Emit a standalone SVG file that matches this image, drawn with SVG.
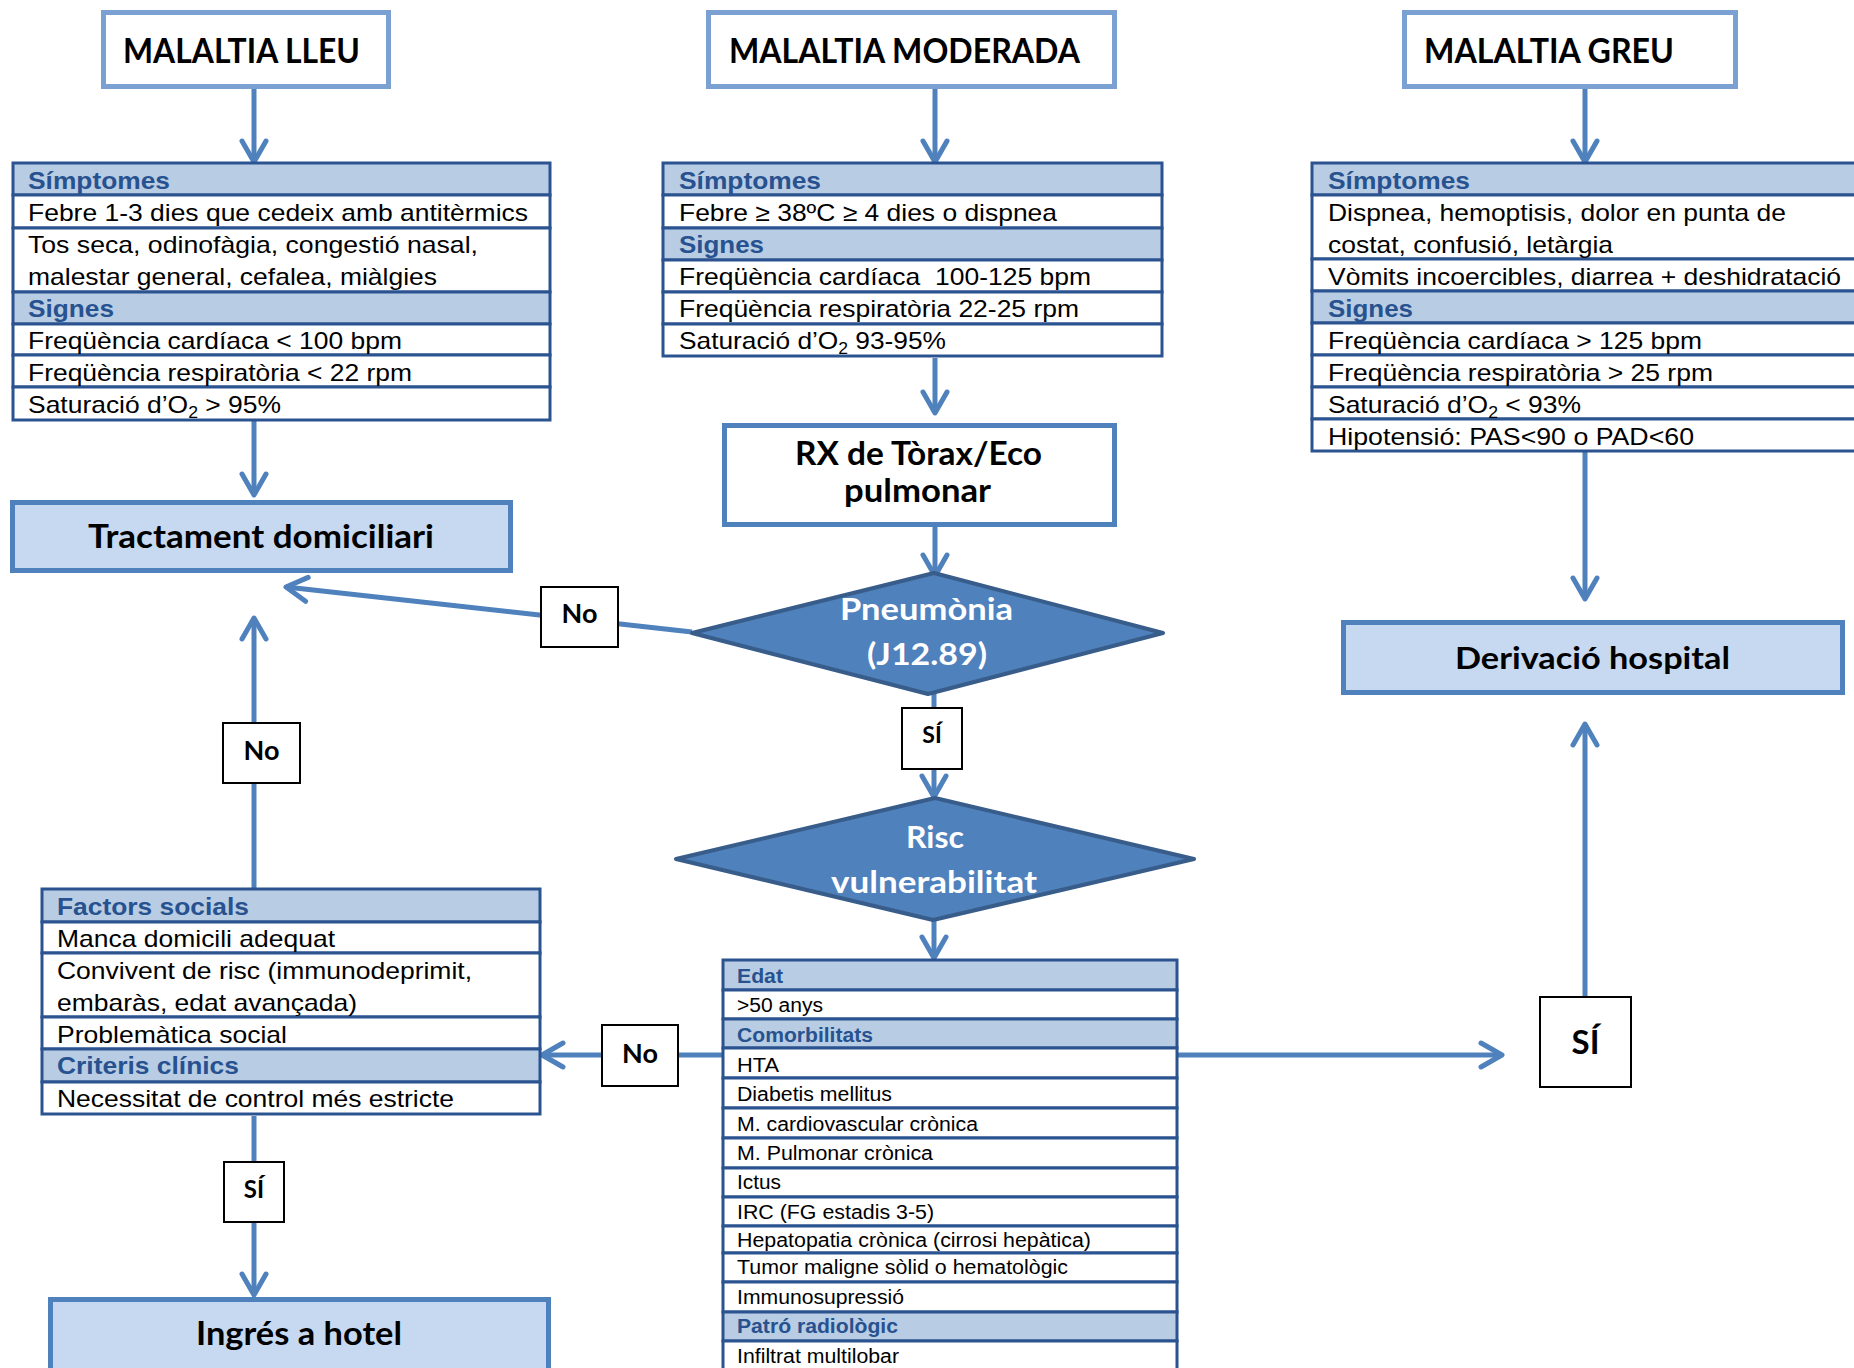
<svg xmlns="http://www.w3.org/2000/svg" width="1854" height="1368" viewBox="0 0 1854 1368">
<style>
.top{fill:#fff;stroke:#7BA0D2;stroke-width:5}
.res{fill:#C6D9F1;stroke:#4F81BD;stroke-width:5}
.rx{fill:#fff;stroke:#4F81BD;stroke-width:5}
.dia{fill:#4F81BD;stroke:#385D8A;stroke-width:4;stroke-linejoin:round}
.row{fill:#fff;stroke:#2A5390;stroke-width:3}
.hrow{fill:#B8CCE4;stroke:#2A5390;stroke-width:3}
.lbl{fill:#fff;stroke:#000;stroke-width:2}
.cal{font-family:Lato,"Open Sans",sans-serif;font-weight:700;fill:#000}
.wt{fill:#fff}
.c{font-family:"Liberation Sans",Arial,sans-serif;font-size:24px;fill:#000}
.ch{font-family:"Liberation Sans",Arial,sans-serif;font-size:24px;font-weight:700;fill:#27528F}
.r{font-family:"Liberation Sans",Arial,sans-serif;font-size:20px;fill:#000}
.rh{font-family:"Liberation Sans",Arial,sans-serif;font-size:20px;font-weight:700;fill:#27528F}
.con{fill:none;stroke:#4F81BD;stroke-width:5;marker-end:url(#ah)}
</style>
<defs>
<marker id="ah" markerUnits="userSpaceOnUse" viewBox="-26 -16 30 32" markerWidth="30" markerHeight="32" refX="0" refY="0" orient="auto">
<path d="M-21,-12 L0,0 L-21,12" fill="none" stroke="#4F81BD" stroke-width="5" stroke-linecap="round" stroke-linejoin="round"/>
</marker>
</defs>
<rect width="1854" height="1368" fill="#fff"/>

<g id="connectors">
<path class="con" d="M254,89 L254,162"/>
<path class="con" d="M935,89 L935,162"/>
<path class="con" d="M1585,89 L1585,162"/>
<path class="con" d="M254,420 L254,495"/>
<path class="con" d="M935,358 L935,413"/>
<path class="con" d="M935,527 L935,576"/>
<path class="con" d="M1585,451 L1585,599"/>
<path class="con" d="M692,632 L286,587"/>
<path class="con" d="M934,694 L934,797"/>
<path class="con" d="M934,920 L934,958"/>
<path class="con" d="M723,1055 L542,1055"/>
<path class="con" d="M1177,1055 L1502,1055"/>
<path class="con" d="M1585,997 L1585,724"/>
<path class="con" d="M254,889 L254,618"/>
<path class="con" d="M254,1116 L254,1295"/>
</g>

<g id="n-lleu">
<rect class="top" x="103.5" y="12.5" width="285" height="74"/>
<text class="cal" x="123" y="63" font-size="34" textLength="237" lengthAdjust="spacingAndGlyphs">MALALTIA LLEU</text>
</g>
<g id="n-moderada">
<rect class="top" x="708.5" y="12.5" width="406" height="74"/>
<text class="cal" x="729" y="63" font-size="34" textLength="351" lengthAdjust="spacingAndGlyphs">MALALTIA MODERADA</text>
</g>
<g id="n-greu">
<rect class="top" x="1404.5" y="12.5" width="331" height="74"/>
<text class="cal" x="1424" y="63" font-size="34" textLength="250" lengthAdjust="spacingAndGlyphs">MALALTIA GREU</text>
</g>

<g id="t-lleu">
<rect class="hrow" x="13" y="163" width="537" height="32"/>
<rect class="row" x="13" y="195" width="537" height="33"/>
<rect class="row" x="13" y="228" width="537" height="64"/>
<rect class="hrow" x="13" y="292" width="537" height="32"/>
<rect class="row" x="13" y="324" width="537" height="31"/>
<rect class="row" x="13" y="355" width="537" height="32"/>
<rect class="row" x="13" y="387" width="537" height="33"/>
<text class="ch" x="28" y="189" textLength="142" lengthAdjust="spacingAndGlyphs">Símptomes</text>
<text class="c" x="28" y="221" textLength="500" lengthAdjust="spacingAndGlyphs">Febre 1-3 dies que cedeix amb antitèrmics</text>
<text class="c" x="28" y="253" textLength="450" lengthAdjust="spacingAndGlyphs">Tos seca, odinofàgia, congestió nasal,</text>
<text class="c" x="28" y="285" textLength="409" lengthAdjust="spacingAndGlyphs">malestar general, cefalea, miàlgies</text>
<text class="ch" x="28" y="317" textLength="86" lengthAdjust="spacingAndGlyphs">Signes</text>
<text class="c" x="28" y="349" textLength="374" lengthAdjust="spacingAndGlyphs">Freqüència cardíaca &lt; 100 bpm</text>
<text class="c" x="28" y="381" textLength="384" lengthAdjust="spacingAndGlyphs">Freqüència respiratòria &lt; 22 rpm</text>
<text class="c" x="28" y="413" textLength="253" lengthAdjust="spacingAndGlyphs">Saturació d’O<tspan font-size="16" dy="5">2</tspan><tspan dy="-5"> &gt; 95%</tspan></text>
</g>

<g id="t-moderada">
<rect class="hrow" x="663" y="163" width="499" height="32"/>
<rect class="row" x="663" y="195" width="499" height="33"/>
<rect class="hrow" x="663" y="228" width="499" height="32"/>
<rect class="row" x="663" y="260" width="499" height="32"/>
<rect class="row" x="663" y="292" width="499" height="32"/>
<rect class="row" x="663" y="324" width="499" height="32"/>
<text class="ch" x="679" y="189" textLength="142" lengthAdjust="spacingAndGlyphs">Símptomes</text>
<text class="c" x="679" y="221" textLength="378" lengthAdjust="spacingAndGlyphs">Febre ≥ 38ºC ≥ 4 dies o dispnea</text>
<text class="ch" x="679" y="253" textLength="85" lengthAdjust="spacingAndGlyphs">Signes</text>
<text class="c" x="679" y="285" textLength="412" lengthAdjust="spacingAndGlyphs">Freqüència cardíaca&#160; 100-125 bpm</text>
<text class="c" x="679" y="317" textLength="400" lengthAdjust="spacingAndGlyphs">Freqüència respiratòria 22-25 rpm</text>
<text class="c" x="679" y="349" textLength="267" lengthAdjust="spacingAndGlyphs">Saturació d’O<tspan font-size="16" dy="5">2</tspan><tspan dy="-5"> 93-95%</tspan></text>
</g>

<g id="t-greu">
<rect class="hrow" x="1312" y="163" width="560" height="32"/>
<rect class="row" x="1312" y="195" width="560" height="64"/>
<rect class="row" x="1312" y="259" width="560" height="32"/>
<rect class="hrow" x="1312" y="291" width="560" height="32"/>
<rect class="row" x="1312" y="323" width="560" height="32"/>
<rect class="row" x="1312" y="355" width="560" height="32"/>
<rect class="row" x="1312" y="387" width="560" height="32"/>
<rect class="row" x="1312" y="419" width="560" height="32"/>
<text class="ch" x="1328" y="189" textLength="142" lengthAdjust="spacingAndGlyphs">Símptomes</text>
<text class="c" x="1328" y="221" textLength="458" lengthAdjust="spacingAndGlyphs">Dispnea, hemoptisis, dolor en punta de</text>
<text class="c" x="1328" y="253" textLength="285" lengthAdjust="spacingAndGlyphs">costat, confusió, letàrgia</text>
<text class="c" x="1328" y="285" textLength="513" lengthAdjust="spacingAndGlyphs">Vòmits incoercibles, diarrea + deshidratació</text>
<text class="ch" x="1328" y="317" textLength="85" lengthAdjust="spacingAndGlyphs">Signes</text>
<text class="c" x="1328" y="349" textLength="374" lengthAdjust="spacingAndGlyphs">Freqüència cardíaca &gt; 125 bpm</text>
<text class="c" x="1328" y="381" textLength="385" lengthAdjust="spacingAndGlyphs">Freqüència respiratòria &gt; 25 rpm</text>
<text class="c" x="1328" y="413" textLength="253" lengthAdjust="spacingAndGlyphs">Saturació d’O<tspan font-size="16" dy="5">2</tspan><tspan dy="-5"> &lt; 93%</tspan></text>
<text class="c" x="1328" y="445" textLength="366" lengthAdjust="spacingAndGlyphs">Hipotensió: PAS&lt;90 o PAD&lt;60</text>
</g>

<g id="n-tractament">
<rect class="res" x="12.5" y="502.5" width="498" height="68"/>
<text class="cal" x="88" y="548" font-size="32" textLength="346" lengthAdjust="spacingAndGlyphs">Tractament domiciliari</text>
</g>

<g id="n-rx">
<rect class="rx" x="724.5" y="425.5" width="390" height="99"/>
<text class="cal" x="795" y="465" font-size="32" textLength="247" lengthAdjust="spacingAndGlyphs">RX de Tòrax/Eco</text>
<text class="cal" x="844" y="502" font-size="32" textLength="147" lengthAdjust="spacingAndGlyphs">pulmonar</text>
</g>

<g id="n-pneumonia">
<polygon class="dia" points="692,633 934,573 1163,633 928,694"/>
<text class="cal wt" x="840" y="620" font-size="30" textLength="173" lengthAdjust="spacingAndGlyphs">Pneumònia</text>
<text class="cal wt" x="867" y="665" font-size="30" textLength="120" lengthAdjust="spacingAndGlyphs">(J12.89)</text>
</g>

<g id="n-derivacio">
<rect class="res" x="1343.5" y="622.5" width="499" height="70"/>
<text class="cal" x="1455" y="669" font-size="31" textLength="275" lengthAdjust="spacingAndGlyphs">Derivació hospital</text>
</g>

<g id="n-risc">
<polygon class="dia" points="676,859 935,798 1194,859 933,920"/>
<text class="cal wt" x="906" y="848" font-size="30" textLength="58" lengthAdjust="spacingAndGlyphs">Risc</text>
<text class="cal wt" x="831" y="893" font-size="30" textLength="206" lengthAdjust="spacingAndGlyphs">vulnerabilitat</text>
</g>

<g id="t-factors">
<rect class="hrow" x="42" y="889" width="498" height="33"/>
<rect class="row" x="42" y="922" width="498" height="31"/>
<rect class="row" x="42" y="953" width="498" height="64"/>
<rect class="row" x="42" y="1017" width="498" height="32"/>
<rect class="hrow" x="42" y="1049" width="498" height="33"/>
<rect class="row" x="42" y="1082" width="498" height="32"/>
<text class="ch" x="57" y="915" textLength="192" lengthAdjust="spacingAndGlyphs">Factors socials</text>
<text class="c" x="57" y="947" textLength="278" lengthAdjust="spacingAndGlyphs">Manca domicili adequat</text>
<text class="c" x="57" y="979" textLength="415" lengthAdjust="spacingAndGlyphs">Convivent de risc (immunodeprimit,</text>
<text class="c" x="57" y="1011" textLength="300" lengthAdjust="spacingAndGlyphs">embaràs, edat avançada)</text>
<text class="c" x="57" y="1043" textLength="230" lengthAdjust="spacingAndGlyphs">Problemàtica social</text>
<text class="ch" x="57" y="1074" textLength="182" lengthAdjust="spacingAndGlyphs">Criteris clínics</text>
<text class="c" x="57" y="1107" textLength="397" lengthAdjust="spacingAndGlyphs">Necessitat de control més estricte</text>
</g>

<g id="t-risc">
<rect class="hrow" x="723" y="960" width="454" height="30"/>
<rect class="row" x="723" y="990" width="454" height="29"/>
<rect class="hrow" x="723" y="1019" width="454" height="29"/>
<rect class="row" x="723" y="1048" width="454" height="30"/>
<rect class="row" x="723" y="1078" width="454" height="30"/>
<rect class="row" x="723" y="1108" width="454" height="30"/>
<rect class="row" x="723" y="1138" width="454" height="30"/>
<rect class="row" x="723" y="1168" width="454" height="29"/>
<rect class="row" x="723" y="1197" width="454" height="29"/>
<rect class="row" x="723" y="1226" width="454" height="27"/>
<rect class="row" x="723" y="1253" width="454" height="29"/>
<rect class="row" x="723" y="1282" width="454" height="30"/>
<rect class="hrow" x="723" y="1312" width="454" height="29"/>
<rect class="row" x="723" y="1341" width="454" height="40"/>
<text class="rh" x="737" y="983" textLength="46" lengthAdjust="spacingAndGlyphs">Edat</text>
<text class="r" x="737" y="1012" textLength="86" lengthAdjust="spacingAndGlyphs">&gt;50 anys</text>
<text class="rh" x="737" y="1042" textLength="136" lengthAdjust="spacingAndGlyphs">Comorbilitats</text>
<text class="r" x="737" y="1072" textLength="42" lengthAdjust="spacingAndGlyphs">HTA</text>
<text class="r" x="737" y="1101" textLength="155" lengthAdjust="spacingAndGlyphs">Diabetis mellitus</text>
<text class="r" x="737" y="1131" textLength="241" lengthAdjust="spacingAndGlyphs">M. cardiovascular crònica</text>
<text class="r" x="737" y="1160" textLength="196" lengthAdjust="spacingAndGlyphs">M. Pulmonar crònica</text>
<text class="r" x="737" y="1189" textLength="44" lengthAdjust="spacingAndGlyphs">Ictus</text>
<text class="r" x="737" y="1219" textLength="197" lengthAdjust="spacingAndGlyphs">IRC (FG estadis 3-5)</text>
<text class="r" x="737" y="1247" textLength="354" lengthAdjust="spacingAndGlyphs">Hepatopatia crònica (cirrosi hepàtica)</text>
<text class="r" x="737" y="1274" textLength="331" lengthAdjust="spacingAndGlyphs">Tumor maligne sòlid o hematològic</text>
<text class="r" x="737" y="1304" textLength="167" lengthAdjust="spacingAndGlyphs">Immunosupressió</text>
<text class="rh" x="737" y="1333" textLength="161" lengthAdjust="spacingAndGlyphs">Patró radiològic</text>
<text class="r" x="737" y="1363" textLength="162" lengthAdjust="spacingAndGlyphs">Infiltrat multilobar</text>
</g>

<g id="n-ingres">
<rect class="res" x="50.5" y="1299.5" width="498" height="100"/>
<text class="cal" x="196" y="1345" font-size="32" textLength="206" lengthAdjust="spacingAndGlyphs">Ingrés a hotel</text>
</g>

<g id="lbl-no1">
<rect class="lbl" x="541" y="587" width="77" height="60"/>
<text class="cal" x="579.5" y="623" font-size="27" text-anchor="middle">No</text>
</g>
<g id="lbl-no2">
<rect class="lbl" x="223" y="723" width="77" height="60"/>
<text class="cal" x="261.5" y="760" font-size="27" text-anchor="middle">No</text>
</g>
<g id="lbl-si1">
<rect class="lbl" x="902" y="708" width="60" height="61"/>
<text class="cal" x="932" y="743" font-size="23" text-anchor="middle">SÍ</text>
</g>
<g id="lbl-no3">
<rect class="lbl" x="602" y="1025" width="76" height="61"/>
<text class="cal" x="640" y="1063" font-size="27" text-anchor="middle">No</text>
</g>
<g id="lbl-si2">
<rect class="lbl" x="1540" y="997" width="91" height="90"/>
<text class="cal" x="1585.5" y="1054" font-size="33" text-anchor="middle">SÍ</text>
</g>
<g id="lbl-si3">
<rect class="lbl" x="224" y="1162" width="60" height="60"/>
<text class="cal" x="254" y="1198" font-size="24" text-anchor="middle">SÍ</text>
</g>
</svg>
